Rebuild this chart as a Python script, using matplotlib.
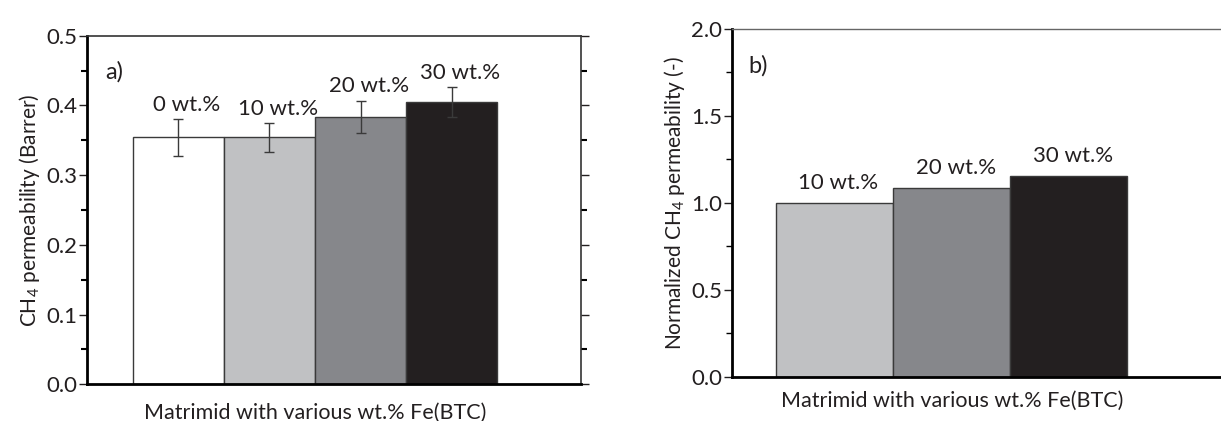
import numpy as np
import matplotlib
matplotlib.use("Agg")
import matplotlib.pyplot as plt
from matplotlib.ticker import MultipleLocator

plt.rcParams["font.family"] = ["Lato", "DejaVu Sans"]
plt.rcParams["mathtext.default"] = "regular"

# panel a data
labels_a = ["0 wt.%", "10 wt.%", "20 wt.%", "30 wt.%"]
perm_a = [0.354, 0.354, 0.384, 0.405]
err_a = [0.026, 0.021, 0.023, 0.021]
ticks_a = [0.0, 0.1, 0.2, 0.3, 0.4, 0.5]

# panel b data
labels_b = ["10 wt.%", "20 wt.%", "30 wt.%"]
norm_b = [1.00, 1.085, 1.156]
ticks_b = [0.0, 0.5, 1.0, 1.5, 2.0]

colors = ["#FFFFFF", "#C0C1C3", "#86878B", "#231F20"]
ink = "#231F20"
xlabel = "Matrimid with various wt.% Fe(BTC)"

fig = plt.figure(figsize=(12.21, 4.21), dpi=100)
ax1 = fig.add_axes([0.0710, 0.0872, 0.4048, 0.828])
ax2 = fig.add_axes([0.5993, 0.1052, 0.4007, 0.826])

# --- a) absolute permeability
x_a = np.arange(len(perm_a))
ax1.bar(x_a, perm_a, width=1.0, color=colors, edgecolor="#3a3a3a", linewidth=1.0, zorder=2)
ax1.errorbar(x_a, perm_a, yerr=err_a, fmt="none", ecolor="#3a3a3a",
             elinewidth=1.0, capsize=3.5, capthick=1.0, zorder=3)
for xi, v, e, lab in zip(x_a, perm_a, err_a, labels_a):
    ax1.annotate(lab, (xi, v + e), xytext=(6, 3), textcoords="offset points",
                 ha="center", va="bottom", fontsize=16, color=ink)
ax1.set_xlim(-1.004, 4.418)
ax1.set_ylim(0, 0.5)
ax1.set_yticks(ticks_a)
ax1.set_yticklabels(["%.1f" % t for t in ticks_a])
ax1.yaxis.set_minor_locator(MultipleLocator(0.05))
ax1.set_xticks([])
ax1.tick_params(axis="y", which="major", direction="out", length=6, width=1.0,
                labelsize=16, colors=ink, pad=1)
ax1.tick_params(axis="y", which="minor", direction="out", length=4, width=1.5)
ax1.tick_params(axis="y", which="both", right=True)
ax1.spines["left"].set_linewidth(2.0)
ax1.spines["bottom"].set_linewidth(2.0)
ax1.spines["top"].set_linewidth(1.2)
ax1.spines["right"].set_linewidth(1.2)
ax1.spines["top"].set_color("#333333")
ax1.spines["right"].set_color("#333333")
ax1.set_ylabel("CH$_4$ permeability (Barrer)", fontsize=15, color=ink, labelpad=3)
ax1.set_xlabel(xlabel, fontsize=15.5, color=ink)
ax1.xaxis.set_label_coords(0.462, -0.052)
ax1.text(0.037, 0.895, "a)", transform=ax1.transAxes, fontsize=17, color=ink,
         va="center", ha="left")

# --- b) normalized permeability
x_b = np.arange(len(norm_b))
ax2.bar(x_b, norm_b, width=1.0, color=colors[1:], edgecolor="#3a3a3a", linewidth=1.0, zorder=2)
for xi, v, lab in zip(x_b, norm_b, labels_b):
    ax2.annotate(lab, (xi, v), xytext=(3, 7), textcoords="offset points",
                 ha="center", va="bottom", fontsize=16, color=ink)
ax2.set_xlim(-0.876, 3.30)
ax2.set_ylim(0, 2.0)
ax2.set_yticks(ticks_b)
ax2.set_yticklabels(["%.1f" % t for t in ticks_b])
ax2.yaxis.set_minor_locator(MultipleLocator(0.25))
ax2.set_xticks([])
ax2.tick_params(axis="y", which="major", direction="out", length=6, width=1.0,
                labelsize=16, colors=ink, pad=1)
ax2.tick_params(axis="y", which="minor", direction="out", length=4, width=1.0)
ax2.spines["left"].set_linewidth(2.0)
ax2.spines["bottom"].set_linewidth(2.0)
ax2.spines["top"].set_linewidth(1.0)
ax2.spines["top"].set_color("#666666")
ax2.spines["right"].set_visible(False)
ax2.set_ylabel("Normalized CH$_4$ permeability (-)", fontsize=15, color=ink, labelpad=3)
ax2.set_xlabel(xlabel, fontsize=15.5, color=ink)
ax2.xaxis.set_label_coords(0.45, -0.04)
ax2.text(0.033, 0.895, "b)", transform=ax2.transAxes, fontsize=17, color=ink,
         va="center", ha="left")

fig.savefig("out.png", dpi=100)
